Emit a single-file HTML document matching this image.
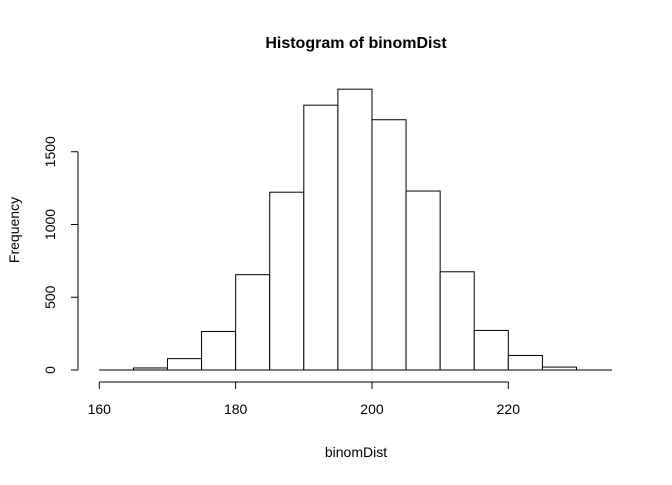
<!DOCTYPE html>
<html><head><meta charset="utf-8"><style>
body{margin:0;background:#fff;}
svg text{font-family:"Liberation Sans",Arial,sans-serif;fill:#000;}
</style></head><body>
<svg width="672" height="480" xmlns="http://www.w3.org/2000/svg">
<text x="356" y="48" text-anchor="middle" font-size="16" font-weight="bold">Histogram of binomDist</text>
<text x="356" y="457" text-anchor="middle" font-size="14">binomDist</text>
<text transform="translate(19,230) rotate(-90)" text-anchor="middle" font-size="14">Frequency</text>
<g id="bars"></g>
<g id="xaxis"></g>
<g id="yaxis"></g>
</svg>
<script>
const binStarts=[160,165,170,175,180,185,190,195,200,205,210,215,220,225,230];
const counts=[0,14,78,265,655,1222,1820,1930,1720,1230,675,272,100,20,0];
const xTicks=[160,180,200,220];
const yTicks=[0,500,1000,1500];
const binWidth=5;
const NS="http://www.w3.org/2000/svg";
const xs=v=>99.3+(v-160)*6.817;
const ys=v=>370-(v)*0.1455;
function mk(tag,attrs,parent){const e=document.createElementNS(NS,tag);for(const k in attrs)e.setAttribute(k,attrs[k]);parent.appendChild(e);return e;}
const bars=document.getElementById('bars');
const base=mk('line',{x1:99,x2:612,y1:370,y2:370,stroke:'#000','stroke-width':1},bars);


binStarts.forEach((b,i)=>{
  const x0=xs(b),x1=xs(b+binWidth),y=ys(counts[i]);
  const r=mk('rect',{x:x0,y:y,width:x1-x0,height:370-y,fill:'#fff',stroke:'#000','stroke-width':1},bars);
  
  
});
const xa=document.getElementById('xaxis');
mk('line',{x1:xs(xTicks[0]),x2:xs(xTicks[xTicks.length-1]),y1:382,y2:382,stroke:'#000'},xa);
xTicks.forEach(t=>{
  mk('line',{x1:xs(t),x2:xs(t),y1:382,y2:389,stroke:'#000'},xa);
  const tx=mk('text',{x:xs(t),y:414,'text-anchor':'middle','font-size':14},xa);
  tx.textContent=t;
  
  
});
const ya=document.getElementById('yaxis');
mk('line',{x1:78,x2:78,y1:ys(yTicks[0]),y2:ys(yTicks[yTicks.length-1]),stroke:'#000'},ya);
yTicks.forEach(t=>{
  mk('line',{x1:71,x2:78,y1:ys(t),y2:ys(t),stroke:'#000'},ya);
  const tx=mk('text',{transform:`translate(55,${ys(t)}) rotate(-90)`,'text-anchor':'middle','font-size':14},ya);
  tx.textContent=t;
  
  
});
</script>
</body></html>
